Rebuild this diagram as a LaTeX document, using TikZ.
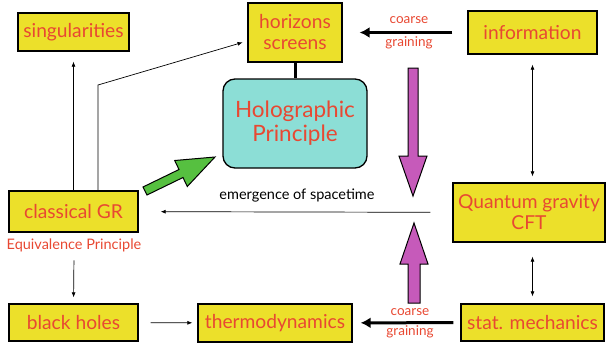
\documentclass[tikz,border=0pt]{standalone}
\usepackage{fontspec}
\setmainfont{Lato}
\usetikzlibrary{arrows.meta,positioning,calc}
\definecolor{boxyellow}{RGB}{236,224,42}
\definecolor{labelred}{RGB}{232,72,50}
\definecolor{holocyan}{RGB}{140,222,214}
\definecolor{bigmagenta}{RGB}{198,90,186}
\definecolor{biggreen}{RGB}{86,192,64}
\tikzset{every picture/.style={line width=0.75pt}}
\tikzset{
  ybox/.style={draw=black,line width=1.3pt,fill=boxyellow,text=labelred,
    font=\fontsize{19.2}{21}\selectfont,align=center,inner sep=0pt},
  redlabel/.style={text=labelred,font=\fontsize{13.5}{15}\selectfont},
  thin arrow/.style={-{Latex[length=5pt,width=4pt]},line width=0.7pt},
  both arrow/.style={{Latex[length=5pt,width=4pt]}-{Latex[length=5pt,width=4pt]},line width=0.7pt},
  coarse arrow/.style={-{Latex[length=10pt,width=11pt]},line width=3pt},
}

\begin{document}
\begin{tikzpicture}[x=1pt,y=-1pt]
    \useasboundingbox (0,0) rectangle (606,346);

    % 黄色方框
    \node[ybox,minimum width=111pt,minimum height=38pt] (sing) at (73.5,32) {singularities};
    \node[ybox,minimum width=94pt,minimum height=59pt] (horiz) at (295,32.5) {horizons\\screens};
    \node[ybox,minimum width=129pt,minimum height=43pt] (info) at (532.5,32.5) {information};
    \node[ybox,minimum width=129pt,minimum height=41pt] (clgr) at (73.5,211.5) {classical GR};
    \node[ybox,minimum width=152pt,minimum height=59pt] (qg) at (529,212.5) {Quantum gravity\\CFT};
    \node[ybox,minimum width=129pt,minimum height=37pt] (bh) at (73.5,322.5) {black holes};
    \node[ybox,minimum width=154pt,minimum height=38pt] (thermo) at (275,323) {thermodynamics};
    \node[ybox,minimum width=143pt,minimum height=37pt] (stat) at (532.5,322.5) {stat. mechanics};

    % 全息原理
    \node[draw,line width=1.3pt,rounded corners=12pt,fill=holocyan,text=labelred,
      font=\fontsize{22.5}{24}\selectfont,align=center,
      minimum width=144pt,minimum height=89pt] (holo) at (295,123.5) {Holographic\\Principle};

    % 标注
    \node[redlabel,font=\fontsize{14.5}{16}\selectfont] (equiv) at (74,245) {Equivalence Principle};
    \node[font=\fontsize{14.5}{16}\selectfont] (emerge) at (297,196) {emergence of spacetime};
    \node[redlabel] (coarseA) at (409,20) {coarse};
    \node[redlabel] (grainA) at (409,43) {graining};
    \node[redlabel] (coarseB) at (410,312) {coarse};
    \node[redlabel] (grainB) at (410,332) {graining};

    % 细箭头
    \draw[thin arrow,shorten >=10pt] (clgr.north) -- (sing.south);
    \coordinate (bend) at (98,85);
    \draw[thin arrow,shorten >=5pt] (clgr.north -| bend) -- (bend) -- ([yshift=-8.5pt]horiz.west);
    \draw[thin arrow,shorten <=5pt,shorten >=6pt] (equiv.south) -- (bh.north);
    \draw[thin arrow,shorten <=12pt,shorten >=5pt] (bh) -- (thermo);
    \draw[thin arrow,shorten <=22pt,shorten >=22pt] (qg) -- (clgr);
    \draw[both arrow,shorten <=10pt,shorten >=6pt] (info.south) -- (info.south |- qg.north);
    \draw[both arrow,shorten <=14pt,shorten >=7pt] (qg.south -| info.south) -- (info.south |- stat.north);

    % 粗箭头
    \draw[coarse arrow,shorten <=15pt,shorten >=17pt] (info) -- (horiz);
    \draw[coarse arrow,shorten <=7pt,shorten >=8pt] (stat) -- (thermo);
    \draw[line width=3pt] (horiz) -- (holo);

    % 大箭头
    \draw[fill=bigmagenta,line width=1pt] (408,68) -- (418,68) -- (418,156) -- (427,156)
      -- (413,196) -- (399,156) -- (408,156) -- cycle;
    \draw[fill=bigmagenta,line width=1pt] (408,303) -- (420,303) -- (420,264) -- (428,264)
      -- (414,223) -- (400,264) -- (408,264) -- cycle;
    \draw[fill=biggreen,line width=1pt] (147,195) -- (183,177.5) -- (187.3,186.5) -- (215,157)
      -- (174.7,160.5) -- (179,169.5) -- (143,187) -- cycle;
\end{tikzpicture}
\end{document}
